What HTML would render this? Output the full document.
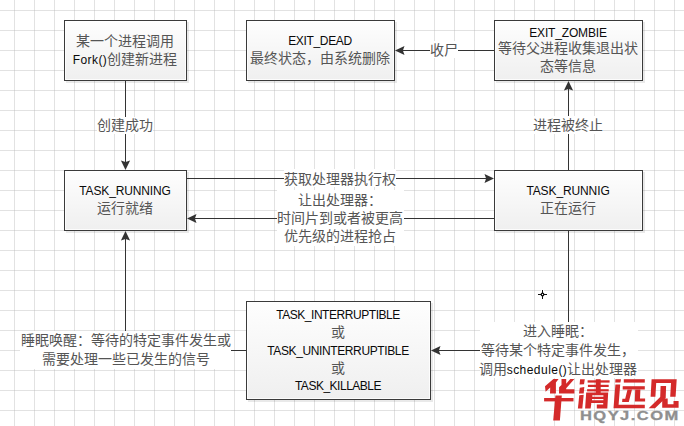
<!DOCTYPE html>
<html lang="zh-CN"><head><meta charset="utf-8">
<style>
html,body{margin:0;padding:0;}
body{width:684px;height:426px;position:relative;overflow:hidden;background:#fff;font-family:"Liberation Sans",sans-serif;color:#555;}
svg{position:absolute;left:0;top:0;}
.ln{position:absolute;width:260px;height:18px;text-align:center;white-space:nowrap;font-size:14px;line-height:18px;}
.l{font-size:12px;color:#0a0a0a;}
.bg{position:absolute;background:#fff;}
</style></head><body>
<svg width="684" height="426" viewBox="0 0 684 426">
<defs>
<pattern id="grid" x="14" y="10" width="20" height="20" patternUnits="userSpaceOnUse">
<rect x="0" y="0" width="1" height="20" fill="#000" fill-opacity="0.115"/>
<rect x="1" y="0" width="19" height="1" fill="#000" fill-opacity="0.115"/>
<rect x="0" y="0" width="1" height="1" fill="#000" fill-opacity="0.08"/>
</pattern>
<linearGradient id="gr" x1="0" y1="0" x2="0" y2="1">
<stop offset="0" stop-color="#fefefe"/>
<stop offset="1" stop-color="#efefef"/>
</linearGradient>
</defs>
<rect x="0" y="0" width="684" height="426" fill="url(#grid)"/>
<rect x="66" y="22" width="123" height="61" fill="#000" fill-opacity="0.085"/>
<rect x="64.5" y="20.5" width="122" height="60" fill="url(#gr)" stroke="#3a3a3a"/>
<rect x="65.5" y="21.5" width="120" height="58" fill="none" stroke="#fff" stroke-opacity="0.8"/>
<rect x="248" y="22" width="149" height="61" fill="#000" fill-opacity="0.085"/>
<rect x="246.5" y="20.5" width="148" height="60" fill="url(#gr)" stroke="#3a3a3a"/>
<rect x="247.5" y="21.5" width="146" height="58" fill="none" stroke="#fff" stroke-opacity="0.8"/>
<rect x="496" y="22" width="149" height="61" fill="#000" fill-opacity="0.085"/>
<rect x="494.5" y="20.5" width="148" height="60" fill="url(#gr)" stroke="#3a3a3a"/>
<rect x="495.5" y="21.5" width="146" height="58" fill="none" stroke="#fff" stroke-opacity="0.8"/>
<rect x="66" y="172" width="123" height="61" fill="#000" fill-opacity="0.085"/>
<rect x="64.5" y="170.5" width="122" height="60" fill="url(#gr)" stroke="#3a3a3a"/>
<rect x="65.5" y="171.5" width="120" height="58" fill="none" stroke="#fff" stroke-opacity="0.8"/>
<rect x="496" y="172" width="149" height="61" fill="#000" fill-opacity="0.085"/>
<rect x="494.5" y="170.5" width="148" height="60" fill="url(#gr)" stroke="#3a3a3a"/>
<rect x="495.5" y="171.5" width="146" height="58" fill="none" stroke="#fff" stroke-opacity="0.8"/>
<rect x="248" y="303" width="185" height="99" fill="#000" fill-opacity="0.085"/>
<rect x="246.5" y="301.5" width="184" height="98" fill="url(#gr)" stroke="#3a3a3a"/>
<rect x="247.5" y="302.5" width="182" height="96" fill="none" stroke="#fff" stroke-opacity="0.8"/>
<g stroke="#333" stroke-width="1" fill="none" shape-rendering="crispEdges">
<line x1="125.5" y1="81" x2="125.5" y2="163"/>
<line x1="187" y1="178.5" x2="487" y2="178.5"/>
<line x1="494" y1="218.5" x2="194" y2="218.5"/>
<line x1="568.5" y1="170" x2="568.5" y2="88"/>
<line x1="494" y1="50.5" x2="402" y2="50.5"/>
<line x1="568.5" y1="231" x2="568.5" y2="350.5"/>
<line x1="568.5" y1="350.5" x2="438" y2="350.5"/>
<line x1="246" y1="350.5" x2="125.5" y2="350.5"/>
<line x1="125.5" y1="350.5" x2="125.5" y2="238"/>
</g>
<g fill="#333">
<polygon points="125.5,170 120.9,160.5 125.5,162.1 130.1,160.5"/>
<polygon points="494,178.5 484.5,173.9 486.1,178.5 484.5,183.1"/>
<polygon points="187,218.5 196.5,213.9 194.9,218.5 196.5,223.1"/>
<polygon points="568.5,81 563.9,90.5 568.5,88.9 573.1,90.5"/>
<polygon points="395,50.5 404.5,45.9 402.9,50.5 404.5,55.1"/>
<polygon points="431,350.5 440.5,345.9 438.9,350.5 440.5,355.1"/>
<polygon points="125.5,231 120.9,240.5 125.5,238.9 130.1,240.5"/>
</g>
</svg>
<div class="bg" style="left:97px;top:117px;width:56px;height:17px"></div>
<div class="bg" style="left:430px;top:41px;width:28px;height:17px"></div>
<div class="bg" style="left:284px;top:169px;width:112px;height:18px"></div>
<div class="bg" style="left:277px;top:190px;width:127px;height:56px"></div>
<div class="bg" style="left:533px;top:116px;width:70px;height:18px"></div>
<div class="bg" style="left:20px;top:331px;width:211px;height:38px"></div>
<div class="bg" style="left:480px;top:322px;width:158px;height:56px"></div>
<div class="ln" style="left:-5px;top:32px">某一个进程调用</div>
<div class="ln" style="left:-5px;top:50px"><span class="l" style="letter-spacing:0.4px">Fork()</span>创建新进程</div>
<div class="ln" style="left:190px;top:31px"><span class="l" style="letter-spacing:-0.34px">EXIT_DEAD</span></div>
<div class="ln" style="left:190px;top:49px">最终状态，由系统删除</div>
<div class="ln" style="left:438px;top:23px"><span class="l" style="letter-spacing:-0.16px">EXIT_ZOMBIE</span></div>
<div class="ln" style="left:438px;top:39px">等待父进程收集退出状</div>
<div class="ln" style="left:438px;top:57px">态等信息</div>
<div class="ln" style="left:-5px;top:181px"><span class="l" style="letter-spacing:-0.15px">TASK_RUNNING</span></div>
<div class="ln" style="left:-5px;top:199px">运行就绪</div>
<div class="ln" style="left:438px;top:181px"><span class="l" style="letter-spacing:-0.11px">TASK_RUNNIG</span></div>
<div class="ln" style="left:438px;top:199px">正在运行</div>
<div class="ln" style="left:208px;top:305px"><span class="l" style="letter-spacing:-0.45px">TASK_INTERRUPTIBLE</span></div>
<div class="ln" style="left:208px;top:323px">或</div>
<div class="ln" style="left:208px;top:341px"><span class="l" style="letter-spacing:-0.38px">TASK_UNINTERRUPTIBLE</span></div>
<div class="ln" style="left:208px;top:359px">或</div>
<div class="ln" style="left:208px;top:376px"><span class="l" style="letter-spacing:-0.49px">TASK_KILLABLE</span></div>
<div class="ln" style="left:-5px;top:116px">创建成功</div>
<div class="ln" style="left:314px;top:41px">收尸</div>
<div class="ln" style="left:210px;top:170px">获取处理器执行权</div>
<div class="ln" style="left:210px;top:191px">让出处理器：</div>
<div class="ln" style="left:210px;top:209px">时间片到或者被更高</div>
<div class="ln" style="left:210px;top:227px">优先级的进程抢占</div>
<div class="ln" style="left:438px;top:116px">进程被终止</div>
<div class="ln" style="left:-4px;top:331px">睡眠唤醒：等待的特定事件发生或</div>
<div class="ln" style="left:-4px;top:350px">需要处理一些已发生的信号</div>
<div class="ln" style="left:428px;top:322px">进入睡眠：</div>
<div class="ln" style="left:428px;top:341px">等待某个特定事件发生，</div>
<div class="ln" style="left:428px;top:360px">调用<span class="l" style="letter-spacing:0.46px">schedule()</span>让出处理器</div>
<svg width="684" height="426">
<g stroke="#fff" stroke-width="3" fill="none"><line x1="542.5" y1="289" x2="542.5" y2="300"/><line x1="537" y1="294.5" x2="548" y2="294.5"/></g>
<g stroke="#111" stroke-width="1" fill="none"><line x1="542.5" y1="290" x2="542.5" y2="299"/><line x1="538" y1="294.5" x2="547" y2="294.5"/></g>
<circle cx="542.5" cy="294.5" r="1.3" fill="#fff" stroke="#111" stroke-width="1.3"/>
</svg>
<svg width="684" height="426" style="position:absolute;left:0;top:0">
<g fill="#d42a2a">
<polygon points="553.4,379 558.6,379 555.9,382.6 555.9,393.5 550,393.5 550.2,387.6 545.6,391.8 545,386.3"/>
<polygon points="561.5,379 566.2,379 566.2,383.8 570.3,379 574.4,379 566.2,388.2 566.2,389.2 574.4,389.2 574.4,393.5 559,393.5 559.1,387.2 561.5,385"/>
<polygon points="544.1,398 573.5,398 573.5,401.4 544.1,401.4"/>
<polygon points="555.4,395.4 561.8,395.4 559.9,420.6 553.2,420.6"/>
<polygon points="580.1,379.2 584.8,379.2 584,384.2 579.6,384.6"/>
<polygon points="579.8,387.8 584.3,387 583.7,393.4 579,393.6"/>
<polygon points="579.3,395.3 583.7,394.8 582.3,408.4 577.9,408.4"/>
<polygon points="587.6,380.3 609.6,380.3 609.6,382.6 587.6,382.6"/>
<polygon points="595.7,379.2 600.7,379.2 600.7,393 595.7,393"/>
<polygon points="587.9,384.8 608.7,384.8 608.7,387 587.9,387"/>
<polygon points="587.1,389.2 608.7,389.2 608.7,391.4 587.1,391.4"/>
<path fill-rule="evenodd" d="M586.2,392.6 L608.2,392.6 L607.3,408.4 L596.8,408.4 L596.8,404.5 L591.2,404.5 L590.6,408.4 L585.1,408.4 Z M592.3,395.3 L603.4,395.3 L603.4,396.7 L592.3,396.7 Z M592,398.9 L603.4,398.9 L603.4,400.3 L592,400.3 Z M591.2,403.1 L603.2,403.1 L603.2,404.5 L591.2,404.5 Z"/>
<polygon points="615.4,379.2 621,379.2 620.4,382.6 615.2,382.6"/>
<polygon points="615.4,384.5 620.2,384.5 618.6,404.8 644.8,404.8 644.8,408.2 613.5,408.2"/>
<polygon points="623.8,379.2 644.8,379.2 644.8,382.6 623.8,382.6"/>
<polygon points="622.7,386.2 644.8,386.2 644.8,389.5 622.7,389.5"/>
<polygon points="627.5,389.5 632,389.5 628.8,402 622.1,402 622.4,398.7 625.2,398.7"/>
<polygon points="635.2,389.5 640.4,389.5 640,398.4 645.1,398.4 645.1,401.4 634.8,401.4"/>
<polygon points="651.6,379.3 676.7,379.3 675.6,396.8 670.2,396.8 671,383.1 656.2,383.1 655.4,396.8 650.6,396.8"/>
<polygon points="660.6,386 666.1,386 665.7,398 655,408.2 648.7,408.2 660.2,397"/>
<polygon points="662.2,398.4 667.7,398.4 667.7,404.2 673.5,404.2 673.5,401 678.6,401 678.6,407.8 662.2,407.8"/>
</g>
</svg>
<div style="position:absolute;left:580px;top:409px;width:80px;height:14px;font-weight:bold;font-size:12.5px;line-height:14px;color:#8f8f8f;-webkit-text-stroke:0.3px #8f8f8f;letter-spacing:1.1px;white-space:nowrap;transform:scaleX(1.32);transform-origin:0 0;">HQYJ.COM</div>
</body></html>
